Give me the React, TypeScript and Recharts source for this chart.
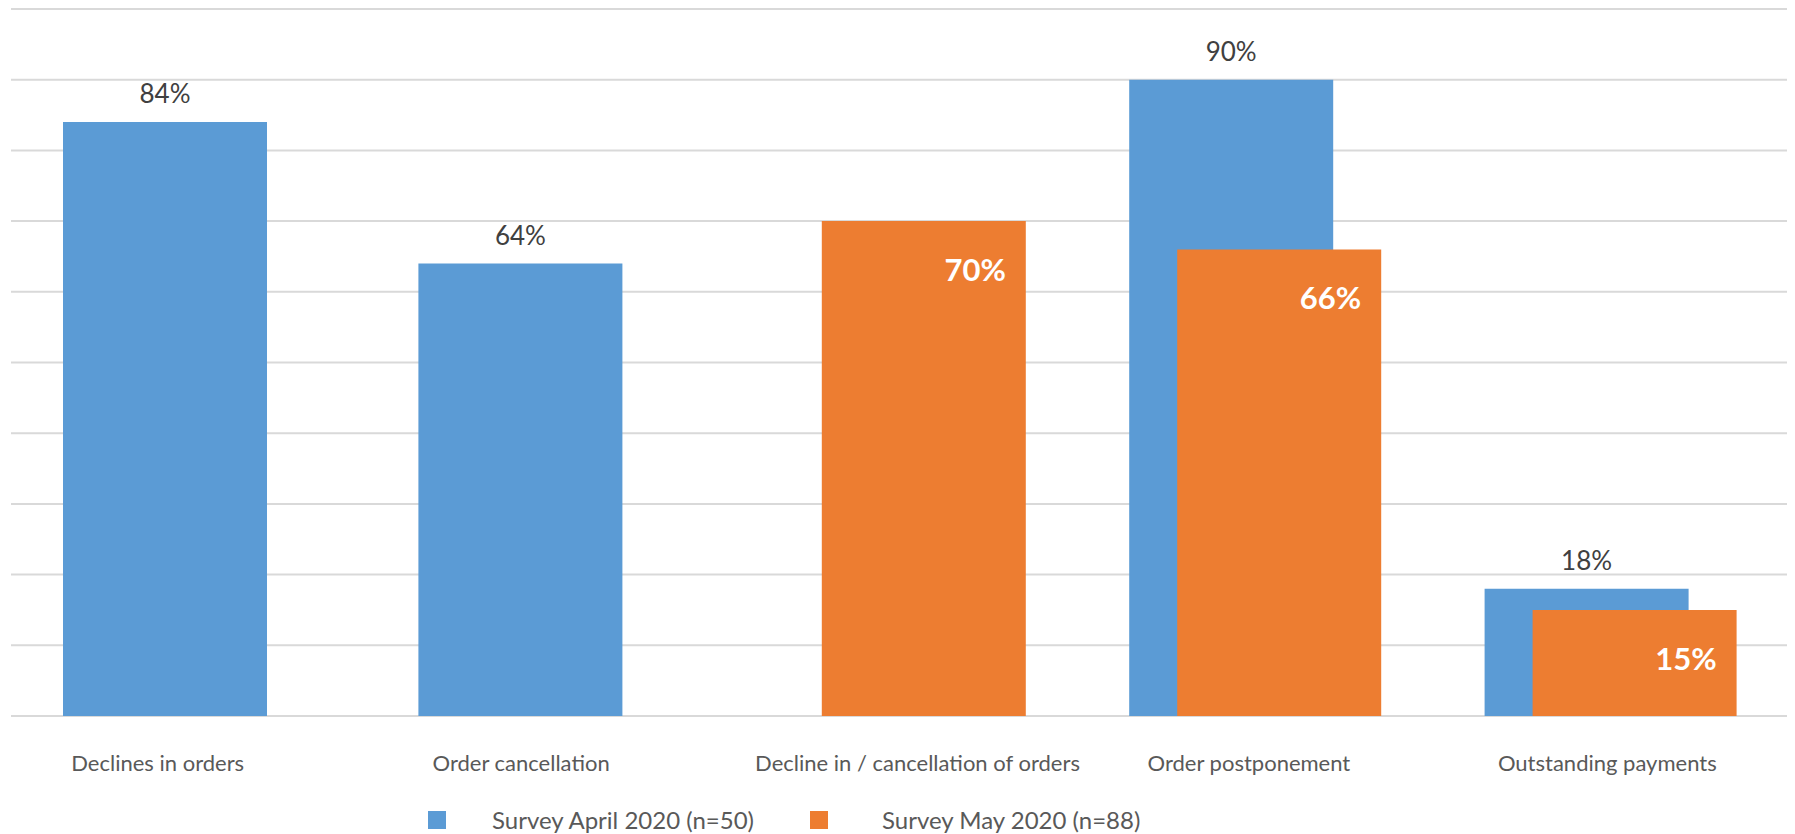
import React from 'react';
import { BarChart, Bar, XAxis, YAxis, CartesianGrid, Legend, LabelList } from 'recharts';

const categories = [
    'Declines in orders',
    'Order cancellation',
    'Decline in / cancellation of orders',
    'Order postponement',
    'Outstanding payments',
];
const april2020 = [84, 64, null, 90, 18];
const may2020 = [null, null, 70, 66, 15];
const yTicks = [0, 10, 20, 30, 40, 50, 60, 70, 80, 90, 100];

const seriesNames = {
    april: 'Survey April 2020 (n=50)',
    may: 'Survey May 2020 (n=88)',
};

const data = categories.map((name, i) => ({ name, april: april2020[i], may: may2020[i] }));

const FONT = 'Lato, "Open Sans", sans-serif';
const BLUE = '#5B9BD5';
const ORANGE = '#ED7D31';
// small horizontal nudges so tick labels sit where the original draws them
const tickNudge = [-31, -23, 18, -6, -3];

/* April labels sit above the bar */
const AprilLabel = (props: any) => {
    const { x, y, width, value } = props;
    if (value == null) return null;
    return (
        <text x={x + width / 2} y={y - 19} textAnchor="middle" fill="#404040"
            fontSize={26} fontFamily={FONT}>
            {value}%
        </text>
    );
};

/* May labels go inside, top right, bold white */
const MayLabel = (props: any) => {
    const { x, y, width, value } = props;
    if (value == null) return null;
    return (
        <text x={x + width - 20} y={y + 60} textAnchor="end" fill="#ffffff"
            fontSize={31} fontWeight={700} fontFamily={FONT}>
            {value}%
        </text>
    );
};

const CategoryTick = ({ x, y, payload, index }: any) => (
    <text x={x + (tickNudge[index] || 0)} y={y} dy={55} textAnchor="middle" fill="#595959"
        fontSize={22} fontFamily={FONT}>
        {payload.value}
    </text>
);

const LegendContent = () => (
    <div style={{ display: 'flex', alignItems: 'center', fontFamily: FONT, fontSize: 24, color: '#595959' }}>
        {[{ c: BLUE, t: seriesNames.april }, { c: ORANGE, t: seriesNames.may }].map((it, i) => (
            <div key={it.t} style={{ display: 'flex', alignItems: 'center', marginRight: i === 0 ? 56 : 0 }}>
                <span style={{ width: 18, height: 18, background: it.c, display: 'inline-block', marginRight: i === 0 ? 46 : 54 }} />
                <span style={{ whiteSpace: 'nowrap' }}>{it.t}</span>
            </div>
        ))}
    </div>
);

export default function App() {
    return (
        <div style={{ width: 1787, height: 826, background: '#fff' }}>
            <BarChart width={1787} height={826} data={data}
                margin={{ top: 1, right: 7, left: 3, bottom: 68 }}
                barSize={204} barGap={-156}>
                <CartesianGrid vertical={false} stroke="#d9d9d9" strokeWidth={2} />
                <XAxis dataKey="name" height={50} interval={0} tickSize={0} tickMargin={0}
                    axisLine={false} tickLine={false} tick={<CategoryTick />} />
                <YAxis hide domain={[0, 100]} ticks={yTicks} />
                <Legend layout="horizontal" verticalAlign="middle" align="center"
                    wrapperStyle={{ top: 797, left: 420, width: 'auto' }} content={<LegendContent />} />
                <Bar dataKey="april" name={seriesNames.april} fill={BLUE} isAnimationActive={false}>
                    <LabelList dataKey="april" content={<AprilLabel />} />
                </Bar>
                <Bar dataKey="may" name={seriesNames.may} fill={ORANGE} isAnimationActive={false}>
                    <LabelList dataKey="may" content={<MayLabel />} />
                </Bar>
            </BarChart>
        </div>
    );
}
